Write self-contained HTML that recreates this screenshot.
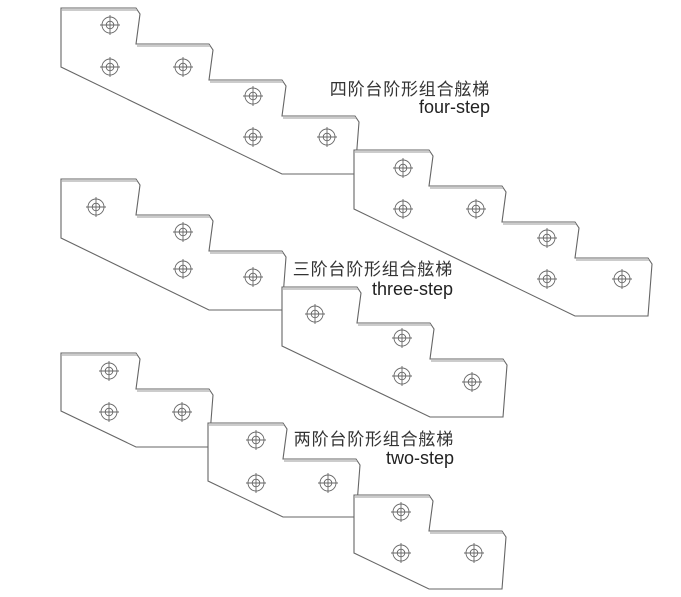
<!DOCTYPE html>
<html><head><meta charset="utf-8"><style>
html,body{margin:0;padding:0;background:#fff;}
svg{display:block;}
.cn{font-family:"Liberation Sans","Noto Sans CJK SC",sans-serif;font-size:17px;letter-spacing:0.8px;fill:#333;}
.en{font-family:"Liberation Sans",sans-serif;font-size:18px;fill:#222;}
</style></head><body>
<svg width="681" height="597" viewBox="0 0 681 597" xmlns="http://www.w3.org/2000/svg">
<defs>
<g id="h" fill="none" stroke="#666" stroke-width="0.9">
<circle r="8"/><circle r="3.8"/><line x1="-10" y1="0" x2="10" y2="0"/><line x1="0" y1="-10" x2="0" y2="10"/>
</g>
</defs>
<g fill="#fff" stroke="#666" stroke-width="1.1" stroke-linejoin="miter">
<path d="M61,8 H136 L140,14 L136,44 H209 L213,50 L209,80 H282 L286,86 L282,116 H355 L359,122 L355,174 H282 L61,67 Z"/>
<path d="M354,150 H429 L433,156 L429,186 H502 L506,192 L502,222 H575 L579,228 L575,258 H648 L652,264 L648,316 H575 L354,209 Z"/>
<path d="M61,179 H136 L140,185 L136,215 H209 L213,221 L209,251 H282 L286,257 L282,310 H209 L61,238 Z"/>
<path d="M282,287 H357 L361,293 L357,323 H430 L434,329 L430,359 H503 L507,365 L503,417 H430 L282,346 Z"/>
<path d="M61,353 H136 L140,359 L136,389 H209 L213,395 L209,447 H136 L61,411 Z"/>
<path d="M208,423 H283 L287,429 L283,459 H356 L360,465 L356,517 H283 L208,481 Z"/>
<path d="M354,495 H429 L433,501 L429,531 H502 L506,537 L502,589 H429 L354,553 Z"/>
</g>
<g stroke="#bbb" stroke-width="1.5">
<line x1="62" y1="10" x2="137" y2="10"/><line x1="137" y1="46" x2="210" y2="46"/><line x1="210" y1="82" x2="283" y2="82"/><line x1="283" y1="118" x2="356" y2="118"/>
<line x1="355" y1="152" x2="430" y2="152"/><line x1="430" y1="188" x2="503" y2="188"/><line x1="503" y1="224" x2="576" y2="224"/><line x1="576" y1="260" x2="649" y2="260"/>
<line x1="62" y1="181" x2="137" y2="181"/><line x1="137" y1="217" x2="210" y2="217"/><line x1="210" y1="253" x2="283" y2="253"/>
<line x1="283" y1="289" x2="358" y2="289"/><line x1="358" y1="325" x2="431" y2="325"/><line x1="431" y1="361" x2="504" y2="361"/>
<line x1="62" y1="355" x2="137" y2="355"/><line x1="137" y1="391" x2="210" y2="391"/>
<line x1="209" y1="425" x2="284" y2="425"/><line x1="284" y1="461" x2="357" y2="461"/>
<line x1="355" y1="497" x2="430" y2="497"/><line x1="430" y1="533" x2="503" y2="533"/>
</g>
<use href="#h" x="110" y="25"/><use href="#h" x="110" y="67"/><use href="#h" x="183" y="67"/><use href="#h" x="253" y="96"/><use href="#h" x="253" y="137"/><use href="#h" x="327" y="137"/>
<use href="#h" x="403" y="168"/><use href="#h" x="403" y="209"/><use href="#h" x="476" y="209"/><use href="#h" x="547" y="238"/><use href="#h" x="547" y="279"/><use href="#h" x="622" y="279"/>
<use href="#h" x="96" y="207"/><use href="#h" x="183" y="232"/><use href="#h" x="183" y="269"/><use href="#h" x="253" y="277"/>
<use href="#h" x="315" y="314"/><use href="#h" x="402" y="338"/><use href="#h" x="402" y="376"/><use href="#h" x="472" y="382"/>
<use href="#h" x="109" y="371"/><use href="#h" x="109" y="412"/><use href="#h" x="182" y="412"/>
<use href="#h" x="256" y="440"/><use href="#h" x="256" y="483"/><use href="#h" x="328" y="483"/>
<use href="#h" x="401" y="512"/><use href="#h" x="401" y="553"/><use href="#h" x="474" y="553"/>
<text class="cn" x="490" y="95" text-anchor="end">四阶台阶形组合舷梯</text>
<text class="en" x="490" y="113" text-anchor="end">four-step</text>
<text class="cn" x="453" y="275" text-anchor="end">三阶台阶形组合舷梯</text>
<text class="en" x="453" y="295" text-anchor="end">three-step</text>
<text class="cn" x="454" y="445" text-anchor="end">两阶台阶形组合舷梯</text>
<text class="en" x="454" y="464" text-anchor="end">two-step</text>
</svg>
</body></html>
